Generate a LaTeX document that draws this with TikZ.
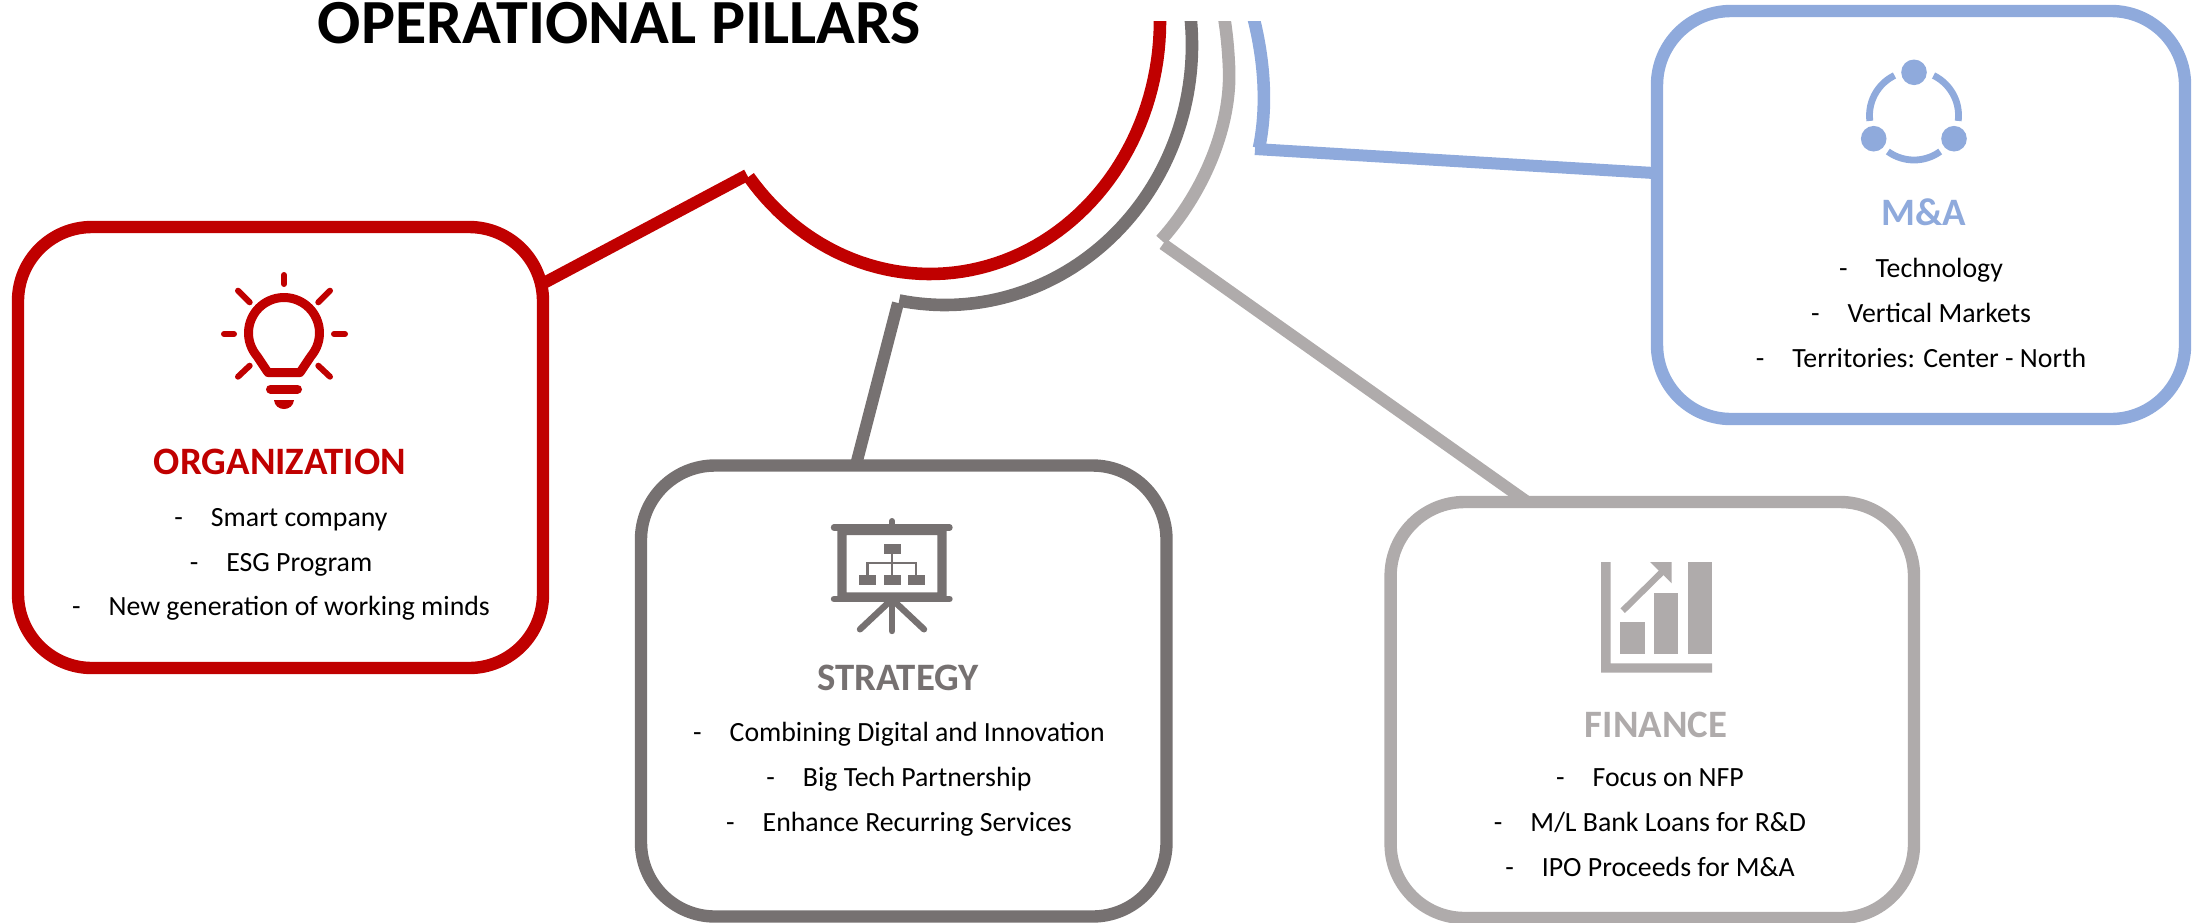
\documentclass[tikz,border=0pt]{standalone}
\usepackage{fontspec}
\setmainfont{Carlito}
\definecolor{cred}{HTML}{C00000}
\definecolor{cgray}{HTML}{767171}
\definecolor{clight}{HTML}{AFABAB}
\definecolor{cblue}{HTML}{8FAADC}
\tikzset{
  pillar/.style={draw=#1,line width=6.2pt,rounded corners=37pt,inner sep=0pt,outer sep=0pt},
  link/.style={draw=#1,line width=6pt,line cap=butt},
  bend/.style={draw=#1,line width=6.3pt,line cap=butt},
  head/.style={text=#1,font=\fontsize{19.4}{19.4}\selectfont\bfseries,inner sep=0pt},
  body/.style={text=black,align=center,font=\fontsize{13.9}{22.4}\selectfont,inner sep=0pt},
  title/.style={font=\fontsize{31.4}{31.4}\selectfont\bfseries\addfontfeature{FakeStretch=1.02},inner sep=0pt}
}
\newcommand{\bul}{-\hspace{14pt}}
\begin{document}
\begin{tikzpicture}[x=0.5pt,y=-0.5pt]
\useasboundingbox (0,0) rectangle (2199,922);
\node[title] (T) at (619.5,23.5) {OPERATIONAL PILLARS};
% boxes
\node[pillar=cred,minimum width=262.5pt,minimum height=220.5pt] (ORG) at (280.5,447.5) {};
\node[pillar=cgray,minimum width=262.75pt,minimum height=225.5pt] (STR) at (903.75,691) {};
\node[pillar=clight,minimum width=261.7pt,minimum height=208pt] (FIN) at (1652.3,710) {};
\node[pillar=cblue,minimum width=264pt,minimum height=204pt] (MA) at (1921,215) {};
% arcs
\coordinate (rt) at (747,175);
\coordinate (gt) at (898,303);
\coordinate (lt) at (1163,244);
\coordinate (bt) at (1255,149);
\begin{scope}
\clip (0,21) rectangle (2199,922);
\draw[bend=cred] plot[domain=142:-6,samples=70] ({930+230*cos(\x)},{21+253*sin(\x)});
\draw[bend=cgray] plot[domain=100.7:-10,samples=70] ({945+247*cos(\x)},{45+260*sin(\x)});
\draw[bend=clight] (1161,240) .. controls (1200,197) and (1232,130) .. (1229,67) .. controls (1228,45) and (1226,25) .. (1221,0);
\draw[bend=cblue] (1259,148) .. controls (1267,110) and (1266,60) .. (1250,5);
\end{scope}
% connectors
\draw[link=cred] (ORG.32.2) -- (rt);
\draw[link=cgray] (STR.102.2) -- (gt);
\draw[link=clight] (FIN.121.5) -- (lt);
\draw[link=cblue] (MA.171.6) -- (bt);
% texts
\node[head=cred] (h1) at (280,462) {ORGANIZATION};
\node[body] (b1) at (281,564.5) {\bul Smart company\\ \bul ESG Program\\ \bul New generation of working minds};
\node[head=cgray] (h2) at (898,678) {STRATEGY};
\node[body] (b2) at (899,779.5) {\bul Combining Digital and Innovation\\ \bul Big Tech Partnership\\ \bul Enhance Recurring Services};
\node[head=clight] (h3) at (1656,725) {FINANCE};
\node[body] (b3) at (1650,822.5) {\bul Focus on NFP\\ \bul M/L Bank Loans for R\&D\\ \bul IPO Proceeds for M\&A};
\node[head=cblue] (h4) at (1924,212) {M\&A};
\node[body] (b4) at (1921,313) {\bul Technology\\ \bul Vertical Markets\\ \bul Territories: Center - North};
% bulb icon
\begin{scope}[draw=cred,fill=cred,line cap=round,line join=round]
\draw[line width=4.5pt,cred] plot[domain=140:400,samples=50] ({284+35.5*cos(\x)},{333+35.5*sin(\x)}) -- (300,372.5) -- (268,372.5) -- cycle;
\draw[line width=3pt] (284,275) -- (284,284);
\draw[line width=3pt] (318.3,302.3) -- (330,290.7);
\draw[line width=3pt] (249.7,302.3) -- (238,290.7);
\draw[line width=3pt] (224,334) -- (234,334);
\draw[line width=3pt] (334,334) -- (345,334);
\draw[line width=3pt] (318.3,365.7) -- (330,376.7);
\draw[line width=3pt] (249.7,365.7) -- (238,376.7);
\draw[line width=4.5pt] (270.5,389) -- (297.5,389);
\fill (274,400) .. controls (275,412) and (293,412) .. (294,400) -- cycle;
\end{scope}
% presentation icon
\begin{scope}[line cap=round]
\fill[cgray,even odd rule] (837.3,527) rectangle (946.7,599) (846.7,535) rectangle (937.3,592.3);
\draw[cgray,line width=3.2pt] (834,527.5) -- (949.5,527.5);
\draw[cgray,line width=3.2pt] (834,599) -- (949.5,599);
\draw[cgray,line width=3pt] (892,521) -- (892,527);
\draw[cgray,line width=3.2pt] (892,599) -- (892,631);
\draw[cgray,line width=3.2pt] (888,603) -- (860,629.3);
\draw[cgray,line width=3.2pt] (896,603) -- (924,629.3);
\fill[cgray] (884,544) rectangle (900.7,554);
\fill[cgray] (859,575) rectangle (876,585);
\fill[cgray] (884,575) rectangle (900.7,585);
\fill[cgray] (908,575) rectangle (925,585);
\draw[cgray,line width=1.2pt,line cap=butt] (892,554) -- (892,575);
\draw[cgray,line width=1.2pt,line cap=butt] (867.3,575) -- (867.3,562.7) -- (916,562.7) -- (916,575);
\end{scope}
% chart icon
\fill[clight] (1601,562) -- (1610.7,562) -- (1610.7,663.3) -- (1712,663.3) -- (1712,672.7) -- (1601,672.7) -- cycle;
\fill[clight] (1620,621.7) rectangle (1645,654);
\fill[clight] (1654,593.3) rectangle (1678.3,654);
\fill[clight] (1688,562) rectangle (1712,654);
\draw[clight,line width=3.2pt] (1622.7,610.7) -- (1662,572);
\fill[clight] (1650,562) -- (1671.7,562) -- (1671.7,583.3) -- cycle;
% network icon
\fill[cblue] (1914,72.3) circle[radius=6.4pt];
\fill[cblue] (1873.7,138.7) circle[radius=6.4pt];
\fill[cblue] (1954,138.7) circle[radius=6.4pt];
\draw[cblue,line width=3.4pt] plot[domain=244:173,samples=30] ({1914+44.5*cos(\x)},{115.5+44.5*sin(\x)});
\draw[cblue,line width=3.4pt] plot[domain=296:367,samples=30] ({1914+44.5*cos(\x)},{115.5+44.5*sin(\x)});
\draw[cblue,line width=3.4pt] plot[domain=54:126,samples=30] ({1914+44.5*cos(\x)},{115.5+44.5*sin(\x)});
\end{tikzpicture}
\end{document}
